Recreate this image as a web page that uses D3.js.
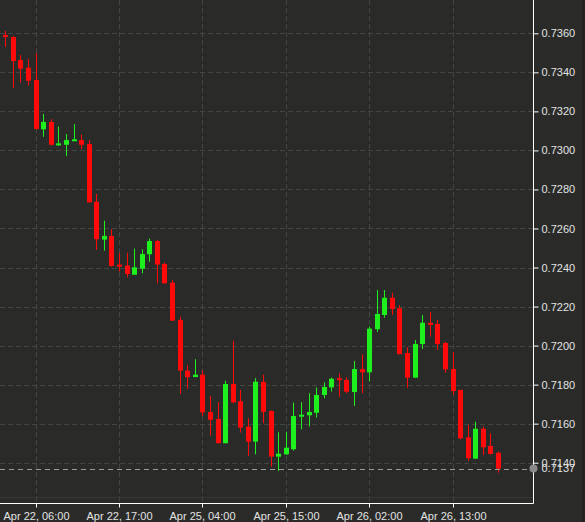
<!DOCTYPE html>
<html>
<head>
<meta charset="utf-8">
<script src="https://cdn.jsdelivr.net/npm/d3@7"></script>
<style>
  html, body { margin: 0; padding: 0; background: #2a2b29; }
  svg { display: block; }
  .tick text { font-family: "Liberation Sans", Arial, sans-serif; font-size: 11px; fill: #e2e2e2; }
</style>
</head>
<body>
<div id="main"></div>
<script>

// datas

const times = [
  '2022-04-22 02:00', '2022-04-22 03:00', '2022-04-22 04:00', '2022-04-22 05:00', '2022-04-22 06:00',
  '2022-04-22 07:00', '2022-04-22 08:00', '2022-04-22 09:00', '2022-04-22 10:00', '2022-04-22 11:00',
  '2022-04-22 12:00', '2022-04-22 13:00', '2022-04-22 14:00', '2022-04-22 15:00', '2022-04-22 16:00',
  '2022-04-22 17:00', '2022-04-22 18:00', '2022-04-22 19:00', '2022-04-22 20:00',
  '2022-04-24 21:00', '2022-04-24 22:00', '2022-04-24 23:00',
  '2022-04-25 00:00', '2022-04-25 01:00', '2022-04-25 02:00', '2022-04-25 03:00', '2022-04-25 04:00',
  '2022-04-25 05:00', '2022-04-25 06:00', '2022-04-25 07:00', '2022-04-25 08:00', '2022-04-25 09:00',
  '2022-04-25 10:00', '2022-04-25 11:00', '2022-04-25 12:00', '2022-04-25 13:00', '2022-04-25 14:00',
  '2022-04-25 15:00', '2022-04-25 16:00', '2022-04-25 17:00', '2022-04-25 18:00', '2022-04-25 19:00',
  '2022-04-25 20:00', '2022-04-25 21:00', '2022-04-25 22:00', '2022-04-25 23:00',
  '2022-04-26 00:00', '2022-04-26 01:00', '2022-04-26 02:00', '2022-04-26 03:00', '2022-04-26 04:00',
  '2022-04-26 05:00', '2022-04-26 06:00', '2022-04-26 07:00', '2022-04-26 08:00', '2022-04-26 09:00',
  '2022-04-26 10:00', '2022-04-26 11:00', '2022-04-26 12:00', '2022-04-26 13:00', '2022-04-26 14:00',
  '2022-04-26 15:00', '2022-04-26 16:00', '2022-04-26 17:00', '2022-04-26 18:00', '2022-04-26 19:00'
];

const opens = [
  0.73591, 0.73581, 0.73463, 0.73424, 0.73361, 0.73108, 0.73146, 0.73029, 0.73029, 0.73050,
  0.73053, 0.73033, 0.72737, 0.72543, 0.72562, 0.72415, 0.72410, 0.72363, 0.72394, 0.72468,
  0.72536, 0.72418, 0.72322, 0.72131, 0.71872, 0.71839, 0.71851, 0.71660, 0.71624, 0.71500,
  0.71803, 0.71715, 0.71585, 0.71508, 0.71814, 0.71665, 0.71431, 0.71443, 0.71469, 0.71636,
  0.71643, 0.71656, 0.71747, 0.71786, 0.71833, 0.71824, 0.71762, 0.71879, 0.71863, 0.72084,
  0.72157, 0.72245, 0.72191, 0.71962, 0.71836, 0.72008, 0.72117, 0.72111, 0.72013, 0.71880,
  0.71773, 0.71530, 0.71421, 0.71574, 0.71486, 0.71451
];

const highs = [
  0.73612, 0.73586, 0.73489, 0.73468, 0.73499, 0.73187, 0.73160, 0.73122, 0.73084, 0.73135,
  0.73081, 0.73053, 0.72777, 0.72640, 0.72597, 0.72476, 0.72476, 0.72497, 0.72493, 0.72548,
  0.72541, 0.72425, 0.72336, 0.72148, 0.71901, 0.71930, 0.71875, 0.71742, 0.71711, 0.71820,
  0.72025, 0.71773, 0.71628, 0.71833, 0.71851, 0.71668, 0.71556, 0.71559, 0.71708, 0.71710,
  0.71756, 0.71786, 0.71812, 0.71836, 0.71858, 0.71838, 0.71921, 0.71955, 0.72097, 0.72285,
  0.72285, 0.72271, 0.72208, 0.71991, 0.72029, 0.72157, 0.72171, 0.72131, 0.72020, 0.71967,
  0.71773, 0.71593, 0.71610, 0.71585, 0.71551, 0.71456
];

const lows = [
  0.73530, 0.73320, 0.73347, 0.73332, 0.73106, 0.73070, 0.73025, 0.73024, 0.72971, 0.73048,
  0.73006, 0.72733, 0.72490, 0.72486, 0.72404, 0.72379, 0.72350, 0.72362, 0.72370, 0.72430,
  0.72319, 0.72318, 0.72126, 0.71752, 0.71779, 0.71838, 0.71639, 0.71539, 0.71499, 0.71499,
  0.71704, 0.71554, 0.71434, 0.71443, 0.71602, 0.71380, 0.71358, 0.71440, 0.71462, 0.71571,
  0.71585, 0.71631, 0.71730, 0.71764, 0.71738, 0.71756, 0.71691, 0.71756, 0.71816, 0.72070,
  0.72143, 0.72157, 0.71955, 0.71784, 0.71834, 0.71983, 0.72046, 0.71978, 0.71862, 0.71747,
  0.71520, 0.71409, 0.71419, 0.71440, 0.71442, 0.71349
];

const closes = [
  0.73581, 0.73458, 0.73419, 0.73357, 0.73110, 0.73146, 0.73029, 0.73036, 0.73053, 0.73057,
  0.73029, 0.72734, 0.72545, 0.72562, 0.72408, 0.72404, 0.72367, 0.72401, 0.72469, 0.72536,
  0.72415, 0.72319, 0.72128, 0.71872, 0.71838, 0.71851, 0.71658, 0.71620, 0.71500, 0.71803,
  0.71710, 0.71580, 0.71508, 0.71815, 0.71661, 0.71431, 0.71446, 0.71477, 0.71639, 0.71646,
  0.71660, 0.71747, 0.71788, 0.71830, 0.71824, 0.71764, 0.71880, 0.71863, 0.72087, 0.72162,
  0.72245, 0.72188, 0.71956, 0.71836, 0.72008, 0.72117, 0.72106, 0.72008, 0.71878, 0.71767,
  0.71525, 0.71423, 0.71574, 0.71479, 0.71445, 0.71370
];

const yTicks = [0.7140, 0.7160, 0.7180, 0.7200, 0.7220, 0.7240, 0.7260, 0.7280, 0.7300, 0.7320, 0.7340, 0.7360];
const xTicks = ['2022-04-22 06:00', '2022-04-22 17:00', '2022-04-25 04:00', '2022-04-25 15:00', '2022-04-26 02:00', '2022-04-26 13:00'];
const lastPrice = 0.7137;

const w = 585;
const h = 522;
const plotRight = 533.5;
const plotBottom = 503.5;

const parse = d3.timeParse('%Y-%m-%d %H:%M');
const fmt = d3.timeFormat('%b %d, %H:%M');

const candles = times.map((t, i) => ({
    t: t, o: opens[i], h: highs[i], l: lows[i], c: closes[i]
}));

// svg

const svg = d3.select('#main').append('svg').attr('width', w).attr('height', h);

svg.append('rect').attr('width', w).attr('height', h).attr('fill', '#2a2b29');
svg.append('rect').attr('x', 582).attr('width', 3).attr('height', h).attr('fill', '#212220');

// scales

const x = d3.scaleBand().domain(times).range([1.5, 501.8]).paddingInner(0.33).paddingOuter(0.165);
const y = d3.scaleLinear().domain([0.7140, 0.7360]).range([462.7, 33.3]);
const cx = d => x(d) + x.bandwidth() / 2;

// grid

const grid = svg.append('g').attr('class', 'grid');

grid.selectAll('line.h')
    .data(yTicks)
    .enter()
    .append('line')
    .attr('class', 'h')
    .attr('x1', 0)
    .attr('x2', plotRight)
    .attr('y1', d => Math.round(y(d)) + 0.5)
    .attr('y2', d => Math.round(y(d)) + 0.5)
    .attr('stroke', '#434542')
    .attr('stroke-dasharray', '5,3');

grid.selectAll('line.v')
    .data(xTicks)
    .enter()
    .append('line')
    .attr('class', 'v')
    .attr('x1', d => Math.round(cx(d)) + 0.5)
    .attr('x2', d => Math.round(cx(d)) + 0.5)
    .attr('y1', 0)
    .attr('y2', plotBottom)
    .attr('stroke', '#434542')
    .attr('stroke-dasharray', '5,3');

grid.append('line')
    .attr('x1', 0).attr('x2', plotRight)
    .attr('y1', 497.5).attr('y2', 497.5)
    .attr('stroke', '#363835');

// candles

const up = '#1ef01e';
const down = '#ff0a0a';

const cg = svg.append('g').attr('class', 'candles');

cg.selectAll('line')
    .data(candles)
    .enter()
    .append('line')
    .attr('x1', d => Math.round(cx(d.t)) + 0.5)
    .attr('x2', d => Math.round(cx(d.t)) + 0.5)
    .attr('y1', d => y(d.h))
    .attr('y2', d => y(d.l))
    .attr('stroke', d => d.c >= d.o ? up : down)
    .attr('stroke-width', 1);

cg.selectAll('rect')
    .data(candles)
    .enter()
    .append('rect')
    .attr('x', d => Math.round(cx(d.t)) + 0.5 - 2.5)
    .attr('width', 5)
    .attr('y', d => y(Math.max(d.o, d.c)))
    .attr('height', d => Math.max(2, Math.abs(y(d.o) - y(d.c))))
    .attr('fill', d => d.c >= d.o ? up : down);

// last price line

svg.append('line')
    .attr('x1', 0)
    .attr('x2', plotRight)
    .attr('y1', Math.round(y(lastPrice)) + 0.5)
    .attr('y2', Math.round(y(lastPrice)) + 0.5)
    .attr('stroke', '#9c9c9c')
    .attr('stroke-dasharray', '5,4');

// axes

const yAxis = d3.axisRight(y).tickValues(yTicks).tickSize(5).tickSizeOuter(0).tickPadding(3)
    .tickFormat(d3.format('.4f'));

const ya = svg.append('g').attr('transform', `translate(${plotRight},0)`).call(yAxis);
ya.select('.domain').remove();
ya.selectAll('.tick line').attr('stroke', '#fff');

const xAxis = d3.axisBottom(x).tickValues(xTicks).tickSize(4).tickSizeOuter(0).tickPadding(5)
    .tickFormat(d => fmt(parse(d)));

const xa = svg.append('g').attr('transform', `translate(0,${plotBottom})`).call(xAxis);
xa.select('.domain').remove();
xa.selectAll('.tick').attr('transform', d => `translate(${Math.round(cx(d)) + 0.5},0)`);
xa.selectAll('.tick line').attr('stroke', '#fff');

svg.append('line')
    .attr('x1', plotRight).attr('x2', plotRight)
    .attr('y1', 0).attr('y2', plotBottom)
    .attr('stroke', '#fff');

svg.append('line')
    .attr('x1', 0).attr('x2', plotRight)
    .attr('y1', plotBottom).attr('y2', plotBottom)
    .attr('stroke', '#fff');

// last price marker

svg.append('circle')
    .attr('cx', plotRight)
    .attr('cy', y(lastPrice))
    .attr('r', 4)
    .attr('fill', '#8a8a8a');

svg.append('text')
    .attr('x', plotRight + 8)
    .attr('y', y(lastPrice))
    .attr('dy', '0.32em')
    .attr('font-family', '"Liberation Sans", Arial, sans-serif')
    .attr('font-size', 11)
    .attr('fill', '#e2e2e2')
    .text(d3.format('.4f')(lastPrice));

</script>
</body>
</html>
